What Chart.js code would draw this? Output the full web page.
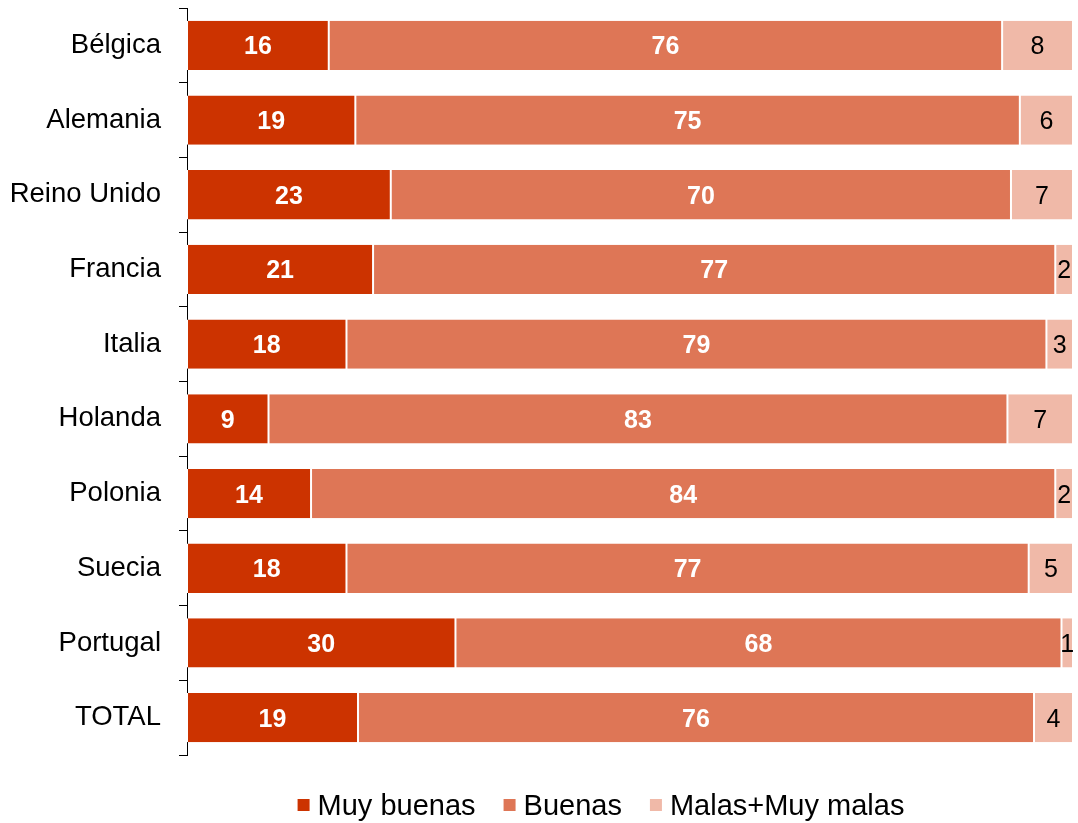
<!DOCTYPE html>
<html>
<head>
<meta charset="utf-8">
<script src="https://cdn.jsdelivr.net/npm/chart.js@4/dist/chart.umd.min.js"></script>
<style>
html,body{margin:0;padding:0;background:#fff;}
#wrap{width:1078px;height:823px;position:relative;}
</style>
</head>
<body>
<div id="wrap"><canvas id="c"></canvas></div>
<script>
const categories = ['Bélgica','Alemania','Reino Unido','Francia','Italia','Holanda','Polonia','Suecia','Portugal','TOTAL'];
const seriesNames = ['Muy buenas','Buenas','Malas+Muy malas'];
const muyBuenas = [16,19,23,21,18,9.2,14,18,30.3,19.3];
const buenas = [76,75,70,77,79,83.4,84,77,68.4,76.3];
const malas = [8,6,7,2,3,7.4,2,5,1.3,4.4];

const colors = ['#CC3300','#DE7656','#F0B9A8'];
const labelColors = ['#ffffff','#ffffff','#000000'];
const labelWeights = ['bold','bold','normal'];
const FONT = '"Liberation Sans", Arial, sans-serif';

const valueLabels = {
  id:'valueLabels',
  afterDatasetsDraw(chart){
    const ctx = chart.ctx;
    chart.data.datasets.forEach((ds,i)=>{
      const meta = chart.getDatasetMeta(i);
      meta.data.forEach((el,j)=>{
        const v = ds.data[j];
        const cx = (el.x + el.base)/2;
        ctx.save();
        ctx.font = labelWeights[i] + ' 25px ' + FONT;
        ctx.fillStyle = labelColors[i];
        ctx.textAlign = 'center';
        ctx.textBaseline = 'alphabetic';
        ctx.fillText(String(Math.round(v)), cx, el.y + 9);
        ctx.restore();
      });
    });
  }
};

const customLegend = {
  id:'customLegend',
  afterDraw(chart){
    const ctx = chart.ctx;
    ctx.save();
    ctx.font = '29px ' + FONT;
    const box = 12, gapText = 8, gapItem = 28;
    const widths = seriesNames.map(s=>ctx.measureText(s).width);
    const total = widths.reduce((a,w)=>a+box+gapText+w,0) + gapItem*(seriesNames.length-1);
    let x = 601 - total/2;
    const yMid = 805, base = 815;
    seriesNames.forEach((s,i)=>{
      ctx.fillStyle = colors[i];
      ctx.fillRect(x, yMid-6, box, box);
      x += box + gapText;
      ctx.fillStyle = '#000';
      ctx.textAlign = 'left';
      ctx.textBaseline = 'alphabetic';
      ctx.fillText(s, x, base);
      x += widths[i] + gapItem;
    });
    ctx.restore();
  }
};

const mk = (label,data,i)=>({
  label, data,
  backgroundColor: colors[i],
  borderColor: '#ffffff',
  borderWidth: {left:1,right:1,top:0,bottom:0},
  borderSkipped: false,
  categoryPercentage: 1,
  barPercentage: 0.66
});

new Chart(document.getElementById('c'),{
  type:'bar',
  data:{
    labels: categories,
    datasets:[mk(seriesNames[0],muyBuenas,0),mk(seriesNames[1],buenas,1),mk(seriesNames[2],malas,2)]
  },
  options:{
    indexAxis:'y',
    responsive:true,
    maintainAspectRatio:false,
    animation:false,
    layout:{padding:{top:8,right:5,left:0,bottom:68}},
    scales:{
      x:{stacked:true,min:0,max:100,display:false},
      y:{
        stacked:true,
        afterFit(s){ s.width = 187; s.paddingTop = 0; s.paddingBottom = 0; },
        grid:{drawOnChartArea:false,tickLength:8,color:'#000',offset:true},
        border:{color:'#000',width:1},
        ticks:{color:'#000',padding:18,font:{family:FONT,size:27.5}}
      }
    },
    plugins:{
      tooltip:{enabled:false},
      legend:{display:false}
    }
  },
  plugins:[valueLabels, customLegend]
});
</script>
</body>
</html>
